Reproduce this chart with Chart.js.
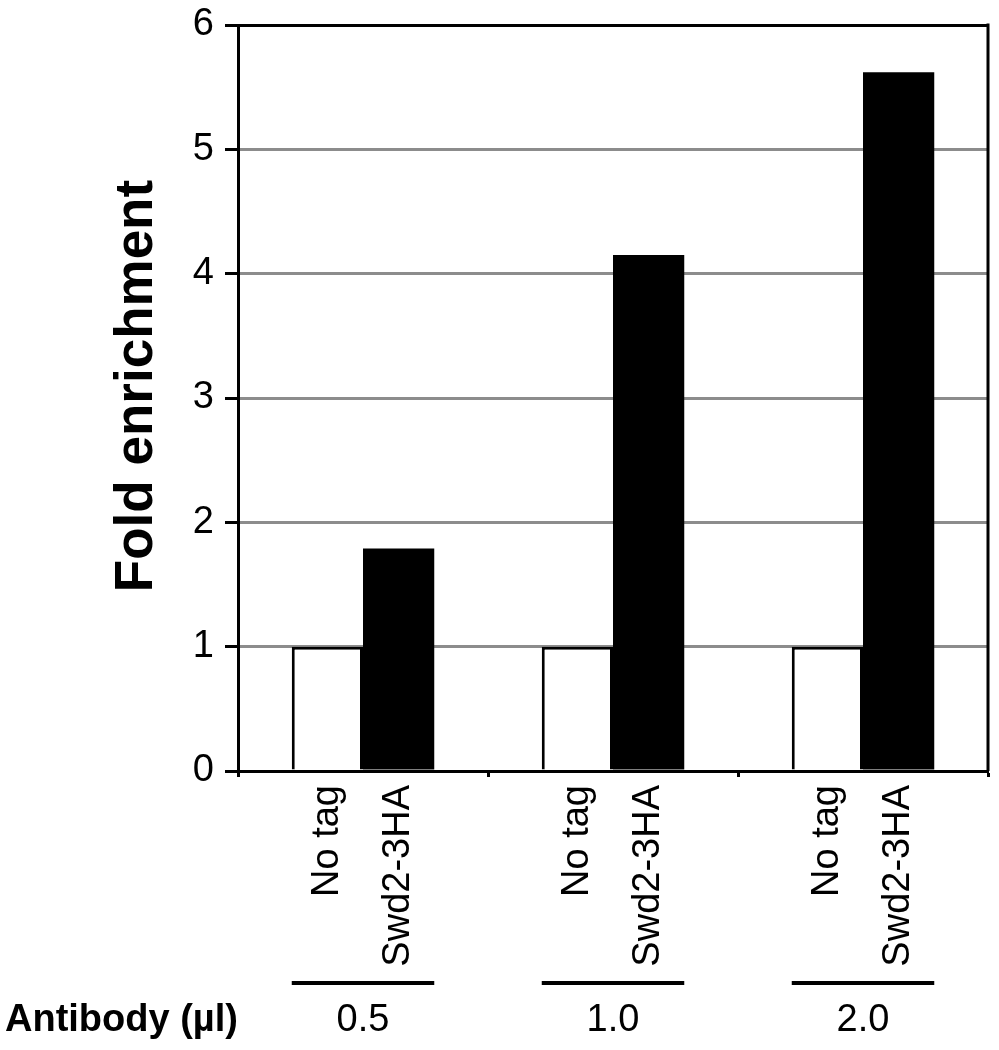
<!DOCTYPE html>
<html><head><meta charset="utf-8">
<script src="https://cdn.jsdelivr.net/npm/chart.js@4"></script>
<style>html,body{margin:0;padding:0;background:#fff}#wrap{width:999px;height:1050px;position:relative}</style>
</head><body><div id="wrap"><canvas id="c"></canvas></div>
<script>
const doses = ['0.5', '1.0', '2.0'];
const seriesNames = ['No tag', 'Swd2-3HA'];
const noTag = [1, 1, 1];
const swd2 = [1.79, 4.15, 5.62];
const yTicks = [0, 1, 2, 3, 4, 5, 6];
const axisTitle = 'Fold enrichment';
const groupTitle = 'Antibody (\u00b5l)';
const FONT = "'Liberation Sans', Arial, Helvetica, sans-serif";

const labelsPlugin = {
  id: 'labels',
  afterDraw(chart) {
    const ctx = chart.ctx, area = chart.chartArea, xs = chart.scales.x;
    ctx.save();
    ctx.strokeStyle = '#000'; ctx.lineWidth = 3;
    ctx.beginPath(); ctx.moveTo(area.right, area.top - 1.5); ctx.lineTo(area.right, area.bottom); ctx.stroke();
    ctx.fillStyle = '#000';
    // y-axis title
    ctx.save();
    ctx.font = `bold 53px ${FONT}`;
    ctx.translate(137, (area.top + area.bottom) / 2 - 12);
    ctx.rotate(-Math.PI / 2);
    ctx.textAlign = 'center'; ctx.textBaseline = 'middle';
    ctx.fillText(axisTitle, 0, 0);
    ctx.restore();
    ctx.font = `38px ${FONT}`;
    chart.data.datasets.forEach((ds, i) => {
      chart.getDatasetMeta(i).data.forEach(bar => {
        ctx.save();
        ctx.translate(bar.x, area.bottom + 14);
        ctx.rotate(-Math.PI / 2);
        ctx.textAlign = 'right'; ctx.textBaseline = 'middle';
        ctx.fillText(ds.label, 0, 0);
        ctx.restore();
      });
    });
    const m0 = chart.getDatasetMeta(0).data, m1 = chart.getDatasetMeta(1).data;
    chart.data.labels.forEach((lab, j) => {
      const l = m0[j].x - m0[j].width / 2, r = m1[j].x + m1[j].width / 2;
      ctx.lineWidth = 4;
      ctx.beginPath(); ctx.moveTo(l, area.bottom + 212); ctx.lineTo(r, area.bottom + 212); ctx.stroke();
      ctx.font = `38px ${FONT}`;
      ctx.textAlign = 'center'; ctx.textBaseline = 'middle';
      ctx.fillText(lab, xs.getPixelForValue(j), area.bottom + 250);
    });
    ctx.font = `bold 38px ${FONT}`;
    ctx.textAlign = 'left'; ctx.textBaseline = 'middle';
    ctx.fillText(groupTitle, 5, area.bottom + 250);
    ctx.restore();
  }
};

new Chart(document.getElementById('c'), {
  type: 'bar',
  data: {
    labels: doses,
    datasets: [
      { label: seriesNames[0], data: noTag, backgroundColor: '#fff', borderColor: '#000', borderWidth: 3, barPercentage: 1, categoryPercentage: 0.57 },
      { label: seriesNames[1], data: swd2, backgroundColor: '#000', borderColor: '#000', borderWidth: 0, barPercentage: 1, categoryPercentage: 0.57 }
    ]
  },
  options: {
    responsive: true,
    maintainAspectRatio: false,
    animation: false,
    layout: { padding: { top: 25, right: 11, left: 0, bottom: 0 } },
    plugins: { legend: { display: false }, tooltip: { enabled: false } },
    scales: {
      x: {
        ticks: { display: false },
        grid: { offset: true, drawOnChartArea: false, tickLength: 6, tickColor: '#000', tickWidth: 3 },
        border: { color: '#000', width: 3 },
        afterFit(s) { s.height = 279; s.paddingLeft = 0; s.paddingRight = 0; }
      },
      y: {
        min: 0, max: 6,
        afterBuildTicks(s) { s.ticks = yTicks.map(v => ({ value: v })); },
        ticks: { color: '#000', font: { size: 38, family: FONT }, padding: 11 },
        grid: {
          color: c => (c.tick && c.tick.value === 6) ? '#000' : '#8c8c8c',
          lineWidth: 3, tickLength: 13, tickColor: '#000', tickWidth: 3
        },
        border: { color: '#000', width: 3 },
        title: { display: false, text: axisTitle },
        afterFit(s) { s.width = 238; s.paddingTop = 0; s.paddingBottom = 0; }
      }
    }
  },
  plugins: [labelsPlugin]
});
</script>
</body></html>
